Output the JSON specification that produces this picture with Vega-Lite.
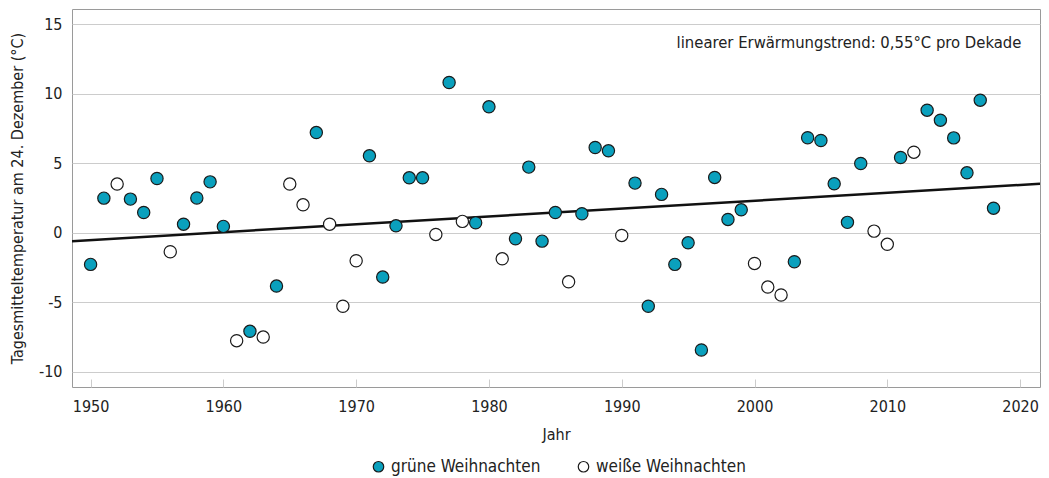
{
  "$schema": "https://vega.github.io/schema/vega-lite/v6.json",
  "width": 968,
  "height": 378,
  "autosize": {"type": "none"},
  "padding": {"left": 72, "top": 9, "right": 9, "bottom": 91},
  "background": "white",
  "config": {
    "font": "DejaVu Sans Condensed",
    "view": {"stroke": "#9a9a9a", "strokeWidth": 1},
    "axis": {"labelColor": "#222222", "titleColor": "#222222", "labelFontSize": 16, "titleFontSize": 16, "titleFontWeight": "normal", "labelFont": "DejaVu Sans Condensed", "titleFont": "DejaVu Sans Condensed"}
  },
  "datasets": {
    "points": [
      {"Jahr": 1950, "Temp": -2.27, "Typ": "grüne Weihnachten"},
      {"Jahr": 1951, "Temp": 2.49, "Typ": "grüne Weihnachten"},
      {"Jahr": 1952, "Temp": 3.5, "Typ": "weiße Weihnachten"},
      {"Jahr": 1953, "Temp": 2.42, "Typ": "grüne Weihnachten"},
      {"Jahr": 1954, "Temp": 1.46, "Typ": "grüne Weihnachten"},
      {"Jahr": 1955, "Temp": 3.9, "Typ": "grüne Weihnachten"},
      {"Jahr": 1956, "Temp": -1.36, "Typ": "weiße Weihnachten"},
      {"Jahr": 1957, "Temp": 0.62, "Typ": "grüne Weihnachten"},
      {"Jahr": 1958, "Temp": 2.5, "Typ": "grüne Weihnachten"},
      {"Jahr": 1959, "Temp": 3.66, "Typ": "grüne Weihnachten"},
      {"Jahr": 1960, "Temp": 0.46, "Typ": "grüne Weihnachten"},
      {"Jahr": 1961, "Temp": -7.75, "Typ": "weiße Weihnachten"},
      {"Jahr": 1962, "Temp": -7.08, "Typ": "grüne Weihnachten"},
      {"Jahr": 1963, "Temp": -7.49, "Typ": "weiße Weihnachten"},
      {"Jahr": 1964, "Temp": -3.83, "Typ": "grüne Weihnachten"},
      {"Jahr": 1965, "Temp": 3.5, "Typ": "weiße Weihnachten"},
      {"Jahr": 1966, "Temp": 2.01, "Typ": "weiße Weihnachten"},
      {"Jahr": 1967, "Temp": 7.2, "Typ": "grüne Weihnachten"},
      {"Jahr": 1968, "Temp": 0.62, "Typ": "weiße Weihnachten"},
      {"Jahr": 1969, "Temp": -5.28, "Typ": "weiße Weihnachten"},
      {"Jahr": 1970, "Temp": -2.01, "Typ": "weiße Weihnachten"},
      {"Jahr": 1971, "Temp": 5.53, "Typ": "grüne Weihnachten"},
      {"Jahr": 1972, "Temp": -3.18, "Typ": "grüne Weihnachten"},
      {"Jahr": 1973, "Temp": 0.5, "Typ": "grüne Weihnachten"},
      {"Jahr": 1974, "Temp": 3.95, "Typ": "grüne Weihnachten"},
      {"Jahr": 1975, "Temp": 3.95, "Typ": "grüne Weihnachten"},
      {"Jahr": 1976, "Temp": -0.12, "Typ": "weiße Weihnachten"},
      {"Jahr": 1977, "Temp": 10.8, "Typ": "grüne Weihnachten"},
      {"Jahr": 1978, "Temp": 0.82, "Typ": "weiße Weihnachten"},
      {"Jahr": 1979, "Temp": 0.72, "Typ": "grüne Weihnachten"},
      {"Jahr": 1980, "Temp": 9.05, "Typ": "grüne Weihnachten"},
      {"Jahr": 1981, "Temp": -1.87, "Typ": "weiße Weihnachten"},
      {"Jahr": 1982, "Temp": -0.43, "Typ": "grüne Weihnachten"},
      {"Jahr": 1983, "Temp": 4.72, "Typ": "grüne Weihnachten"},
      {"Jahr": 1984, "Temp": -0.6, "Typ": "grüne Weihnachten"},
      {"Jahr": 1985, "Temp": 1.46, "Typ": "grüne Weihnachten"},
      {"Jahr": 1986, "Temp": -3.52, "Typ": "weiße Weihnachten"},
      {"Jahr": 1987, "Temp": 1.37, "Typ": "grüne Weihnachten"},
      {"Jahr": 1988, "Temp": 6.13, "Typ": "grüne Weihnachten"},
      {"Jahr": 1989, "Temp": 5.89, "Typ": "grüne Weihnachten"},
      {"Jahr": 1990, "Temp": -0.19, "Typ": "weiße Weihnachten"},
      {"Jahr": 1991, "Temp": 3.57, "Typ": "grüne Weihnachten"},
      {"Jahr": 1992, "Temp": -5.28, "Typ": "grüne Weihnachten"},
      {"Jahr": 1993, "Temp": 2.76, "Typ": "grüne Weihnachten"},
      {"Jahr": 1994, "Temp": -2.27, "Typ": "grüne Weihnachten"},
      {"Jahr": 1995, "Temp": -0.72, "Typ": "grüne Weihnachten"},
      {"Jahr": 1996, "Temp": -8.42, "Typ": "grüne Weihnachten"},
      {"Jahr": 1997, "Temp": 3.98, "Typ": "grüne Weihnachten"},
      {"Jahr": 1998, "Temp": 0.96, "Typ": "grüne Weihnachten"},
      {"Jahr": 1999, "Temp": 1.65, "Typ": "grüne Weihnachten"},
      {"Jahr": 2000, "Temp": -2.2, "Typ": "weiße Weihnachten"},
      {"Jahr": 2001, "Temp": -3.9, "Typ": "weiße Weihnachten"},
      {"Jahr": 2002, "Temp": -4.47, "Typ": "weiße Weihnachten"},
      {"Jahr": 2003, "Temp": -2.08, "Typ": "grüne Weihnachten"},
      {"Jahr": 2004, "Temp": 6.83, "Typ": "grüne Weihnachten"},
      {"Jahr": 2005, "Temp": 6.63, "Typ": "grüne Weihnachten"},
      {"Jahr": 2006, "Temp": 3.52, "Typ": "grüne Weihnachten"},
      {"Jahr": 2007, "Temp": 0.75, "Typ": "grüne Weihnachten"},
      {"Jahr": 2008, "Temp": 4.98, "Typ": "grüne Weihnachten"},
      {"Jahr": 2009, "Temp": 0.12, "Typ": "weiße Weihnachten"},
      {"Jahr": 2010, "Temp": -0.83, "Typ": "weiße Weihnachten"},
      {"Jahr": 2011, "Temp": 5.41, "Typ": "grüne Weihnachten"},
      {"Jahr": 2012, "Temp": 5.79, "Typ": "weiße Weihnachten"},
      {"Jahr": 2013, "Temp": 8.81, "Typ": "grüne Weihnachten"},
      {"Jahr": 2014, "Temp": 8.09, "Typ": "grüne Weihnachten"},
      {"Jahr": 2015, "Temp": 6.82, "Typ": "grüne Weihnachten"},
      {"Jahr": 2016, "Temp": 4.31, "Typ": "grüne Weihnachten"},
      {"Jahr": 2017, "Temp": 9.53, "Typ": "grüne Weihnachten"},
      {"Jahr": 2018, "Temp": 1.77, "Typ": "grüne Weihnachten"}
    ],
    "trend": [
      {"Jahr": 1948.6, "Temp": -0.6},
      {"Jahr": 2021.5, "Temp": 3.52}
    ],
    "note": [
      {"Jahr": 2020.1, "Temp": 13.65, "label": "linearer Erwärmungstrend: 0,55°C pro Dekade"}
    ]
  },
  "layer": [
    {
      "data": {"name": "trend"},
      "mark": {"type": "line", "color": "#111111", "strokeWidth": 2.5, "clip": true},
      "encoding": {
        "x": {"field": "Jahr", "type": "quantitative"},
        "y": {"field": "Temp", "type": "quantitative"}
      }
    },
    {
      "data": {"name": "points"},
      "mark": {"type": "point", "shape": "circle", "filled": true, "size": 150, "stroke": "#1a1a1a", "strokeWidth": 1.2, "opacity": 1, "fillOpacity": 1},
      "encoding": {
        "x": {
          "field": "Jahr", "type": "quantitative",
          "scale": {"domain": [1948.6, 2021.5], "nice": false, "zero": false},
          "axis": {"title": "Jahr", "values": [1950, 1960, 1970, 1980, 1990, 2000, 2010, 2020], "format": "d", "grid": false, "domain": false, "ticks": true, "tickSize": -8, "tickColor": "#cccccc", "labelPadding": 19, "titlePadding": 12, "labelFlush": false}
        },
        "y": {
          "field": "Temp", "type": "quantitative",
          "scale": {"domain": [-11.08, 16.08], "nice": false, "zero": false},
          "axis": {"title": "Tagesmitteltemperatur am 24. Dezember (°C)", "values": [-10, -5, 0, 5, 10, 15], "labelExpr": "replace(datum.label, '\u2212', '-')", "grid": true, "gridColor": "#cccccc", "gridWidth": 1, "domain": false, "ticks": false, "labelPadding": 10, "titlePadding": 13}
        },
        "fill": {
          "field": "Typ", "type": "nominal",
          "scale": {"domain": ["grüne Weihnachten", "weiße Weihnachten"], "range": ["#0aa0bd", "#ffffff"]},
          "legend": {"title": null, "orient": "none", "direction": "horizontal", "legendX": 298, "legendY": 449, "symbolSize": 110, "symbolStrokeColor": "#1a1a1a", "symbolStrokeWidth": 1.2, "labelFontSize": 17, "labelColor": "#222222", "labelFont": "DejaVu Sans Condensed", "columnPadding": 34, "symbolType": "circle"}
        }
      }
    },
    {
      "data": {"name": "note"},
      "mark": {"type": "text", "align": "right", "baseline": "middle", "fontSize": 16.5, "color": "#222222", "font": "DejaVu Sans Condensed"},
      "encoding": {
        "x": {"field": "Jahr", "type": "quantitative"},
        "y": {"field": "Temp", "type": "quantitative"},
        "text": {"field": "label"}
      }
    }
  ]
}
